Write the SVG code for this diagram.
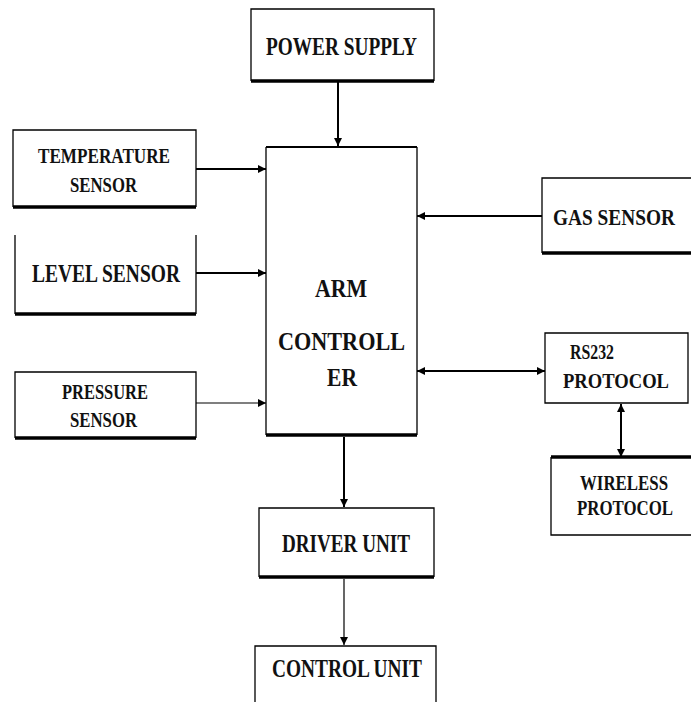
<svg xmlns="http://www.w3.org/2000/svg" width="691" height="702" viewBox="0 0 691 702">
<style>
.b{fill:none;stroke:#000;stroke-width:1.3}
.bb{fill:none;stroke:#000;stroke-width:3.5}
.t{font-family:"Liberation Serif","Times New Roman",serif;font-weight:bold;fill:#111;text-anchor:start}
.c{fill:none;stroke:#000;stroke-width:2}
.c1{fill:none;stroke:#000;stroke-width:1.2}
</style>
<defs>
<marker id="ah" viewBox="0 0 10 10" refX="10" refY="5" markerWidth="8" markerHeight="8" orient="auto-start-reverse" markerUnits="userSpaceOnUse">
<path d="M0,0 L10,5 L0,10 z" fill="#000"/>
</marker>
</defs>
<rect width="691" height="702" fill="#fff"/>

<g id="power">
<path class="b" d="M251,81 V9 H434 V81"/>
<path class="bb" d="M251,81 H434"/>
<text class="t" x="266" y="55" font-size="26" textLength="151" lengthAdjust="spacingAndGlyphs">POWER SUPPLY</text>
</g>

<g id="temperature">
<path class="b" d="M13,207 V130 H196 V207"/>
<path class="bb" d="M13,207 H196"/>
<text class="t" x="38" y="163" font-size="21" textLength="132" lengthAdjust="spacingAndGlyphs">TEMPERATURE</text>
<text class="t" x="70" y="192" font-size="21" textLength="67" lengthAdjust="spacingAndGlyphs">SENSOR</text>
</g>

<g id="level">
<path class="b" d="M15,235 V314 M196,235 V314"/>
<path class="bb" d="M15,314 H196"/>
<text class="t" x="32" y="282" font-size="26" textLength="148" lengthAdjust="spacingAndGlyphs">LEVEL SENSOR</text>
</g>

<g id="pressure">
<path class="b" d="M15,438 V372 H196 V438"/>
<path class="bb" d="M15,438 H196"/>
<text class="t" x="62" y="399" font-size="20" textLength="86" lengthAdjust="spacingAndGlyphs">PRESSURE</text>
<text class="t" x="70" y="427" font-size="20" textLength="67" lengthAdjust="spacingAndGlyphs">SENSOR</text>
</g>

<g id="arm">
<path class="b" d="M266,435 V147 M417,147 V435"/>
<path class="c" d="M266,147 H417"/>
<path class="bb" d="M266,435 H417"/>
<text class="t" x="315" y="297" font-size="26" textLength="52" lengthAdjust="spacingAndGlyphs">ARM</text>
<text class="t" x="278" y="350" font-size="26" textLength="127" lengthAdjust="spacingAndGlyphs">CONTROLL</text>
<text class="t" x="327" y="386" font-size="26" textLength="30" lengthAdjust="spacingAndGlyphs">ER</text>
</g>

<g id="gas">
<path class="b" d="M542,253 V178 H691"/>
<path class="bb" d="M542,253 H691"/>
<text class="t" x="553" y="225" font-size="24" textLength="122" lengthAdjust="spacingAndGlyphs">GAS SENSOR</text>
</g>

<g id="rs232">
<path class="b" d="M545,333 H688 V403 H545 Z"/>
<text class="t" x="570" y="359" font-size="21" textLength="44" lengthAdjust="spacingAndGlyphs">RS232</text>
<text class="t" x="563" y="388" font-size="20" textLength="106" lengthAdjust="spacingAndGlyphs">PROTOCOL</text>
</g>

<g id="wireless">
<path class="b" d="M551,457 V535 H691"/>
<path class="bb" d="M551,457 H691"/>
<text class="t" x="580" y="490" font-size="20" textLength="88" lengthAdjust="spacingAndGlyphs">WIRELESS</text>
<text class="t" x="577" y="515" font-size="20" textLength="96" lengthAdjust="spacingAndGlyphs">PROTOCOL</text>
</g>

<g id="driver">
<path class="b" d="M259,577 V508 H434 V577"/>
<path class="bb" d="M259,577 H434"/>
<text class="t" x="282" y="552" font-size="26" textLength="128" lengthAdjust="spacingAndGlyphs">DRIVER UNIT</text>
</g>

<g id="control">
<path class="b" d="M255,702 V646 H436 V702"/>
<text class="t" x="272" y="677" font-size="25" textLength="150" lengthAdjust="spacingAndGlyphs">CONTROL UNIT</text>
</g>

<g id="connectors">
<path class="c" d="M338,82 V146" marker-end="url(#ah)"/>
<path class="c" d="M196,169 H266" marker-end="url(#ah)"/>
<path class="c" d="M196,273 H266" marker-end="url(#ah)"/>
<path class="c1" d="M196,403 H266" marker-end="url(#ah)"/>
<path class="c" d="M542,216 H417" marker-end="url(#ah)"/>
<path class="c" d="M417,371 H545" marker-start="url(#ah)" marker-end="url(#ah)"/>
<path class="c" d="M621,404 V457" marker-start="url(#ah)" marker-end="url(#ah)"/>
<path class="c" d="M344,437 V507" marker-end="url(#ah)"/>
<path class="c1" d="M344,579 V645" marker-end="url(#ah)"/>
</g>
</svg>
